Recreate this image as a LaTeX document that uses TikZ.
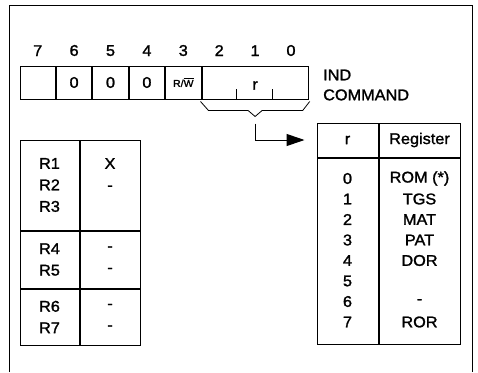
\documentclass[tikz,border=0pt]{standalone}
\usepackage{fontspec}
\setmainfont[FakeStretch=1.05, FakeBold=1.5]{Liberation Sans}
\usetikzlibrary{positioning, arrows.meta, calc}

\begin{document}
\begin{tikzpicture}[
    x=1pt, y=-1pt,
    line width=1pt,
    every node/.style={font=\fontsize{15.5}{21.5}\selectfont, inner sep=0pt},
    bitcell/.style={draw, minimum width=35.4pt, minimum height=33pt},
    tcell/.style={draw, align=center},
    arrow/.style={-{Triangle[length=18pt, width=12pt]}}
]
\useasboundingbox (0,0) rectangle (478,372);

% Frame
\draw (9,372) |- (472,5) -- (472,372);

% Register bits
\node[bitcell] (b7) at (37.7,82.5) {};
\node[bitcell, right=0pt of b7] (b6) {0};
\node[bitcell, right=0pt of b6] (b5) {0};
\node[bitcell, right=0pt of b5] (b4) {0};
\node[bitcell, right=0pt of b4, font=\fontsize{10}{10}\selectfont] (b3) {R/$\overline{\hbox{W}}$};
\node[draw, minimum width=106.2pt, minimum height=33pt, right=0pt of b3] (rfield) {};
\node[yshift=-3pt] (rname) at (rfield) {r};
\draw ($(rfield.south west)+(35.4,0)$) -- ++(0,-11);
\draw ($(rfield.south west)+(70.8,0)$) -- ++(0,-11);

% Bit numbers
\foreach \b in {7,6,5,4,3}
    \node[above=9pt of b\b] {\b};
\node[above=9pt of rfield.north west, xshift=17.7pt] {2};
\node[above=9pt of rfield] {1};
\node[above=9pt of rfield.north east, xshift=-17.7pt] {0};

\node[right=14pt of rfield, align=left, yshift=-2.5pt, font=\fontsize{15.5}{20}\selectfont] (ind) {IND\\COMMAND};

% Brace under r
\coordinate (brtip) at ($(rfield.south)+(0,17)$);
\draw[line width=0.8pt] ($(rfield.south west)+(-1,2)$) -- ++(8,9) -- ($(brtip)+(-7,-6)$) -- (brtip)
    -- ($(brtip)+(7,-6)$) -- ($(rfield.south east)+(-6,11)$) -- ++(7,-9);

% Register table
\node[tcell, minimum width=61pt, minimum height=34pt] (hr) at (347.5,140) {r};
\node[tcell, minimum width=81pt, minimum height=34pt, right=0pt of hr] (hreg) {Register};
\node[tcell, minimum width=61pt, minimum height=186pt, below=0pt of hr] (br) {};
\node[tcell, minimum width=81pt, minimum height=186pt, below=0pt of hreg] (breg) {};
\foreach \n/\reg in {0/ROM (*), 1/TGS, 2/MAT, 3/PAT, 4/DOR, 5/{}, 6/-, 7/ROR} {
    \node at ($(br.north)+(0,21+20.5*\n)$) {\n};
    \node at ($(breg.north)+(0,21+20.5*\n)$) {\reg};
}

\draw[arrow] ($(brtip)+(0,7)$) |- ([xshift=-12pt]hr.west);

% R table
\node[tcell, minimum width=59pt, minimum height=90pt] (g1) at (49.5,185) {R1\\R2\\R3};
\node[tcell, minimum width=60pt, minimum height=90pt, right=0pt of g1] (v1) {X\\-\\\phantom{R}};
\node[tcell, minimum width=59pt, minimum height=57pt, below=0pt of g1] (g2) {R4\\R5};
\node[tcell, minimum width=60pt, minimum height=57pt, right=0pt of g2] (v2) {-\\-};
\node[tcell, minimum width=59pt, minimum height=56pt, below=0pt of g2] (g3) {R6\\R7};
\node[tcell, minimum width=60pt, minimum height=56pt, right=0pt of g3] (v3) {-\\-};

\end{tikzpicture}
\end{document}
